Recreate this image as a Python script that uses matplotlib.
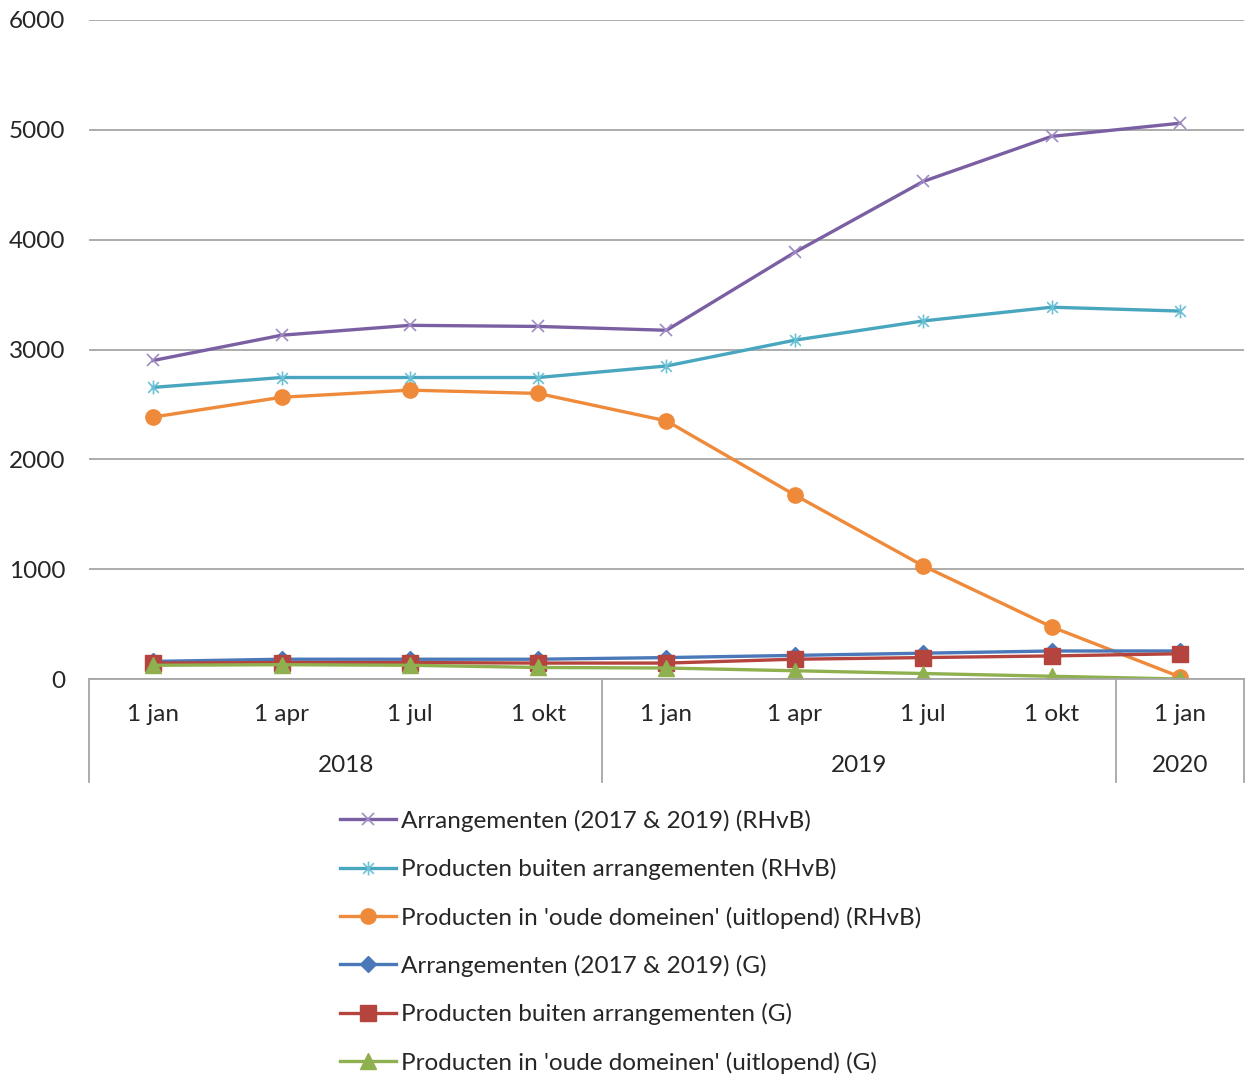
import numpy as np
import matplotlib.pyplot as plt
from matplotlib.path import Path
import matplotlib.transforms as mtransforms

months = ['1 jan', '1 apr', '1 jul', '1 okt', '1 jan', '1 apr', '1 jul', '1 okt', '1 jan']
years = ['2018', '2019', '2020']
year_len = [4, 4, 1]

arr_rhvb = [2900, 3130, 3220, 3210, 3175, 3885, 4530, 4940, 5060]
prod_rhvb = [2655, 2745, 2745, 2745, 2850, 3085, 3260, 3385, 3350]
oud_rhvb = [2385, 2565, 2630, 2600, 2350, 1675, 1030, 475, 20]
arr_g = [160, 180, 180, 180, 195, 215, 235, 255, 255]
prod_g = [145, 150, 150, 145, 145, 180, 195, 210, 230]
oud_g = [125, 130, 125, 105, 100, 75, 50, 25, 0]

labels = ["Arrangementen (2017 & 2019) (RHvB)",
          "Producten buiten arrangementen (RHvB)",
          "Producten in 'oude domeinen' (uitlopend) (RHvB)",
          "Arrangementen (2017 & 2019) (G)",
          "Producten buiten arrangementen (G)",
          "Producten in 'oude domeinen' (uitlopend) (G)"]

plt.rcParams['font.family'] = ['Lato', 'DejaVu Sans']
txt = '#262626'
grid_c = '#a6a6a6'
fs = 17.5

# asterisk marker: x plus a vertical stroke
ast = Path([(-1, -1), (1, 1), (-1, 1), (1, -1), (0, -1.3), (0, 1.3)],
           [Path.MOVETO, Path.LINETO] * 3)

fig = plt.figure(figsize=(12.45, 10.75), dpi=100)
ax = fig.add_axes([89/1245, 1-679/1075, 1155/1245, 659/1075])

x = np.arange(len(months))
ax.plot(x, arr_rhvb, color='#7b5fa3', lw=2.4, marker='x', ms=9, mew=1.2,
        mec='#a08cc4', label=labels[0])
ax.plot(x, prod_rhvb, color='#48a7bf', lw=2.4, marker=ast, ms=10, mew=1.2,
        mec='#6cc0d6', label=labels[1])
ax.plot(x, oud_rhvb, color='#ee8a3a', lw=2.4, marker='o', ms=11,
        mec='#ee8a3a', label=labels[2])
ax.plot(x, arr_g, color='#4a78b8', lw=2.4, marker='D', ms=8,
        mec='#4a78b8', label=labels[3])
ax.plot(x, prod_g, color='#b5443f', lw=2.4, marker='s', ms=11,
        mec='#b5443f', label=labels[4])
ax.plot(x, oud_g, color='#8fb04e', lw=2.4, marker='^', ms=11,
        mec='#8fb04e', label=labels[5])

ax.set_xlim(-0.5, len(months) - 0.5)
ax.set_ylim(0, 6000)
ax.set_yticks(range(0, 6001, 1000))
ax.yaxis.grid(True, color=grid_c, lw=1.3)
ax.set_axisbelow(True)
for s in ['top', 'right', 'left']:
    ax.spines[s].set_visible(False)
ax.spines['bottom'].set_color(grid_c)
ax.spines['bottom'].set_linewidth(1.3)
ax.tick_params(axis='y', length=0, labelsize=fs, labelcolor=txt, pad=17)
ax.tick_params(axis='x', length=0, labelsize=fs, labelcolor=txt, pad=18)
ax.set_xticks(x)
ax.set_xticklabels(months)

# year groups below the month labels
trans = mtransforms.blended_transform_factory(ax.transData, ax.transAxes)
bounds = np.concatenate([[0], np.cumsum(year_len)]) - 0.5
for b in bounds:
    ax.plot([b, b], [0, -103/659], color=grid_c, lw=1.3, transform=trans,
            clip_on=False)
for i, yr in enumerate(years):
    ax.text((bounds[i] + bounds[i + 1]) / 2, -86/659, yr, transform=trans,
            ha='center', va='center', fontsize=fs, color=txt)

leg = fig.legend(loc='upper left', bbox_to_anchor=(318/1245, 1-788/1075),
                 frameon=False, fontsize=fs, labelspacing=1.08,
                 handlelength=2.3, handletextpad=0.2, labelcolor=txt)

fig.savefig('out.png', dpi=100)
